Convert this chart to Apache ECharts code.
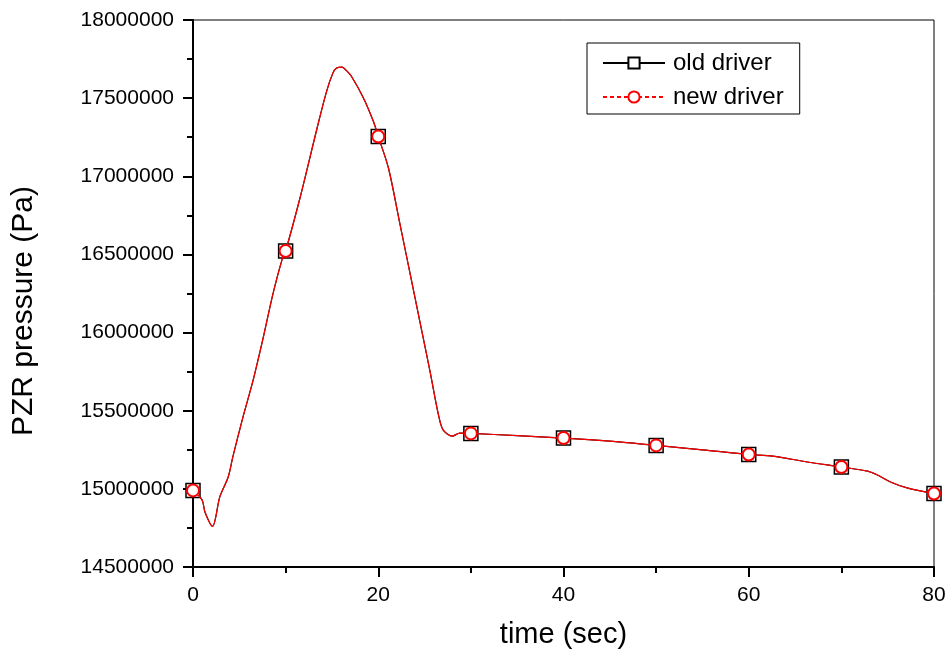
<!DOCTYPE html>
<html>
<head>
<meta charset="utf-8">
<script src="https://cdn.jsdelivr.net/npm/echarts@6/dist/echarts.min.js"></script>
<style>html,body{margin:0;padding:0;background:#fff}#c{width:951px;height:659px}</style>
</head>
<body>
<div id="c"></div>
<script>
var timeSec = [0, 0.97, 1.3, 2.1, 2.9, 3.8, 4.3, 5.4, 6.5, 7.6, 8.6, 9.6, 10, 11.55, 13.4, 14.4, 15.1, 15.5, 16.1, 16.6, 17.1, 18.4, 19.5, 20, 21.1, 22.3, 23.4, 24.5, 25.6, 26.5, 27.0, 28.0, 28.8, 30, 35, 40, 45, 50, 55, 60, 62.6, 66.3, 70, 72.8, 73.9, 75.3, 77.1, 80];
// PZR pressure (Pa), old driver
var oldDriver = [14990000, 14930000, 14850000, 14760000, 14950000, 15076000, 15204000, 15460000, 15697000, 15972000, 16240000, 16464000, 16522000, 16861000, 17309000, 17539000, 17660000, 17693000, 17699000, 17674000, 17640000, 17501000, 17347000, 17255000, 17053000, 16707000, 16388000, 16068000, 15748000, 15473000, 15377000, 15338000, 15357000, 15355000, 15340000, 15325000, 15305000, 15278000, 15250000, 15220000, 15210000, 15172000, 15140000, 15114000, 15089000, 15044000, 15006000, 14970000];
// PZR pressure (Pa), new driver (overlapping)
var newDriver = oldDriver.slice();
// times where markers are drawn
var markerTimes = [0, 10, 20, 30, 40, 50, 60, 70, 80];
var seriesNames = ['old driver', 'new driver'];
var xTitle = 'time (sec)';
var yTitle = 'PZR pressure (Pa)';

function pairs(t, v) { return t.map(function (x, i) { return [x, v[i]]; }); }
function markSize(size) {
  return function (val) { return markerTimes.indexOf(val[0]) >= 0 ? size : 0; };
}
var chart = echarts.init(document.getElementById('c'), null, { renderer: 'canvas' });
var font = 'Liberation Sans, Arial, sans-serif';
chart.setOption({
  animation: false,
  backgroundColor: '#fff',
  grid: { left: 193, right: 17, top: 20, bottom: 92, show: true, borderColor: '#000', borderWidth: 1 },
  graphic: [{
    type: 'text', x: 24, y: 311, rotation: Math.PI / 2,
    style: { text: yTitle, font: '30px ' + font, fill: '#000', align: 'center', verticalAlign: 'middle' }
  }],
  legend: {
    left: 587, top: 43, orient: 'vertical',
    padding: [8, 16, 5, 15],
    borderColor: '#000', borderWidth: 1,
    itemWidth: 62, itemHeight: 14, itemGap: 10,
    textStyle: { fontFamily: font, fontSize: 24, color: '#000', lineHeight: 24, padding: [0, 0, 0, 3] },
    data: [
      { name: seriesNames[0] },
      { name: seriesNames[1], lineStyle: { type: [4, 3] } }
    ]
  },
  xAxis: {
    type: 'value', min: 0, max: 80, interval: 20,
    name: xTitle, nameLocation: 'middle', nameGap: 53,
    nameTextStyle: { fontFamily: font, fontSize: 29, color: '#000' },
    axisLine: { show: true, lineStyle: { color: '#000', width: 2 } },
    axisTick: { show: true, inside: false, length: 10, lineStyle: { color: '#000', width: 2 } },
    minorTick: { show: true, splitNumber: 2, length: 6, lineStyle: { color: '#000', width: 2 } },
    axisLabel: { fontFamily: font, fontSize: 21, color: '#000', margin: 18 },
    splitLine: { show: false }
  },
  yAxis: {
    type: 'value', min: 14500000, max: 18000000, interval: 500000,
    axisLine: { show: true, lineStyle: { color: '#000', width: 2 } },
    axisTick: { show: true, inside: false, length: 10, lineStyle: { color: '#000', width: 2 } },
    minorTick: { show: true, splitNumber: 2, length: 6, lineStyle: { color: '#000', width: 2 } },
    axisLabel: { fontFamily: font, fontSize: 21, color: '#000', margin: 19, formatter: function (v) { return String(v); } },
    splitLine: { show: false }
  },
  series: [
    {
      name: seriesNames[0], type: 'line', data: pairs(timeSec, oldDriver),
      smooth: 0.3, showSymbol: true, showAllSymbol: true,
      symbol: 'rect', symbolSize: markSize(14),
      itemStyle: { color: '#fff', borderColor: '#000', borderWidth: 1.5 },
      lineStyle: { color: '#000', width: 1.2 },
      color: '#000', z: 2
    },
    {
      name: seriesNames[1], type: 'line', data: pairs(timeSec, newDriver),
      smooth: 0.3, showSymbol: true, showAllSymbol: true,
      symbol: 'circle', symbolSize: markSize(12),
      itemStyle: { color: '#fff', borderColor: '#ff0000', borderWidth: 2 },
      lineStyle: { color: '#ff0000', width: 1.2 },
      color: '#ff0000', z: 3
    }
  ]
});
</script>
</body>
</html>
